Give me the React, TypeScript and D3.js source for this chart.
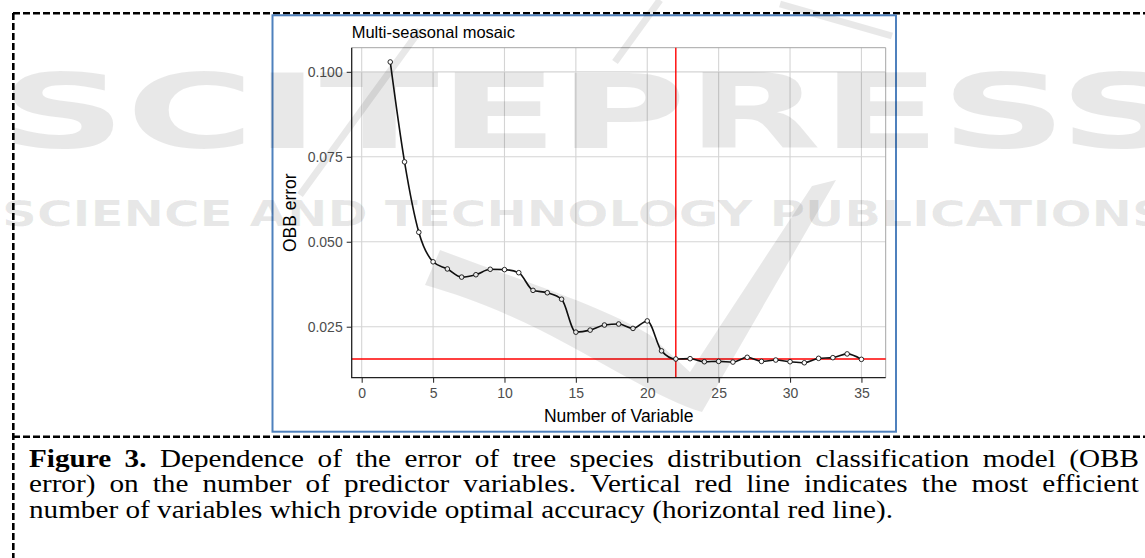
import React, { useEffect, useRef } from 'react';
import * as d3 from 'd3';

// number of predictor variables and the OBB error
const nVars = [2, 3, 4, 5, 6, 7, 8, 9, 10, 11, 12, 13, 14, 15, 16, 17, 18, 19, 20, 21, 22, 23, 24, 25, 26, 27, 28, 29, 30, 31, 32, 33, 34, 35];
const obbError = [
  0.1029, 0.0735, 0.0528, 0.0441, 0.0420, 0.0396, 0.0403, 0.0419, 0.0418, 0.0409,
  0.0357, 0.0350, 0.0331, 0.0234, 0.0240, 0.0255, 0.0258, 0.0245, 0.0267, 0.0179,
  0.0155, 0.0156, 0.0147, 0.0148, 0.0146, 0.0160, 0.0148, 0.0152, 0.0147, 0.0144,
  0.0157, 0.0159, 0.0170, 0.0154,
];
const xTicks = [0, 5, 10, 15, 20, 25, 30, 35];
const yTicks = [0.025, 0.05, 0.075, 0.1];
const optimalN = 22;
const optimalError = 0.0155;

const plotTitle = 'Multi-seasonal mosaic';
const xTitle = 'Number of Variable';
const yTitle = 'OBB error';

const captionLines = [
  { bold: 'Figure 3.', text: 'Dependence of the error of tree species distribution classification model (OBB', justify: true },
  { bold: '', text: 'error) on the number of predictor variables. Vertical red line indicates the most efficient', justify: true },
  { bold: '', text: 'number of variables which provide optimal accuracy (horizontal red line).', justify: false },
];

const W = 1145;
const H = 558;

const App: React.FC = () => {
  const svgRef = useRef<SVGSVGElement>(null);

  useEffect(() => {
    if (!svgRef.current) return;
    const svg = d3.select(svgRef.current);
    svg.selectAll('*').remove();

    const sans = 'Arial, "Liberation Sans", sans-serif';
    const serif = '"Times New Roman", "Liberation Serif", serif';

    // panel
    const panel = { left: 351.7, right: 885.7, top: 47.7, bottom: 377.7 };
    const x = d3.scaleLinear().domain([-0.7, 36.7]).range([panel.left, panel.right]);
    const y = d3.scaleLinear().domain([0.0100, 0.1071]).range([panel.bottom, panel.top]);

    // outer dashed frame
    const dash = svg.append('g')
      .style('stroke', '#000')
      .style('stroke-width', 2.6)
      .style('stroke-dasharray', '7,3')
      .style('fill', 'none');
    dash.append('line').attr('x1', 13).attr('x2', W).attr('y1', 13.3).attr('y2', 13.3);
    dash.append('line').attr('x1', 13.3).attr('x2', 13.3).attr('y1', 13).attr('y2', H);
    dash.append('line').attr('x1', 13).attr('x2', W).attr('y1', 436.7).attr('y2', 436.7);

    // blue picture box
    svg.append('rect')
      .attr('x', 272.5).attr('y', 15.3)
      .attr('width', 623.5).attr('height', 416.4)
      .style('fill', 'none')
      .style('stroke', '#4f81bd')
      .style('stroke-width', 2);

    const g = svg.append('g');

    // grid
    g.selectAll('.vgrid')
      .data(xTicks)
      .enter()
      .append('line')
      .attr('x1', d => x(d)).attr('x2', d => x(d))
      .attr('y1', panel.top).attr('y2', panel.bottom)
      .style('stroke', '#d4d4d4')
      .style('stroke-width', 1.1);
    g.selectAll('.hgrid')
      .data(yTicks)
      .enter()
      .append('line')
      .attr('x1', panel.left).attr('x2', panel.right)
      .attr('y1', d => y(d)).attr('y2', d => y(d))
      .style('stroke', '#d4d4d4')
      .style('stroke-width', 1.1);

    // panel border (top / right grey)
    g.append('path')
      .attr('d', `M${panel.left},${panel.top}H${panel.right}V${panel.bottom}`)
      .style('fill', 'none')
      .style('stroke', '#a6a6a6')
      .style('stroke-width', 1);

    // reference lines
    g.append('line')
      .attr('x1', panel.left).attr('x2', panel.right)
      .attr('y1', y(optimalError)).attr('y2', y(optimalError))
      .style('stroke', '#ff0000')
      .style('stroke-width', 1.4);
    g.append('line')
      .attr('x1', x(optimalN)).attr('x2', x(optimalN))
      .attr('y1', panel.top).attr('y2', panel.bottom)
      .style('stroke', '#ff0000')
      .style('stroke-width', 1.4);

    // error curve
    const pts = nVars.map((n, i) => [n, obbError[i]] as [number, number]);
    const line = d3.line<[number, number]>()
      .x(d => x(d[0]))
      .y(d => y(d[1]))
      .curve(d3.curveMonotoneX);
    g.append('path')
      .attr('d', line(pts))
      .style('fill', 'none')
      .style('stroke', '#111')
      .style('stroke-width', 1.6);
    g.selectAll('.pt')
      .data(pts)
      .enter()
      .append('circle')
      .attr('cx', d => x(d[0]))
      .attr('cy', d => y(d[1]))
      .attr('r', 2.3)
      .style('fill', '#fff')
      .style('stroke', '#111')
      .style('stroke-width', 0.9);

    // axes
    const xAxis = g.append('g')
      .attr('transform', `translate(0,${panel.bottom})`)
      .call(d3.axisBottom(x).tickValues(xTicks).tickSize(5).tickPadding(6).tickFormat(d3.format('d')));
    const yAxis = g.append('g')
      .attr('transform', `translate(${panel.left},0)`)
      .call(d3.axisLeft(y).tickValues(yTicks).tickSize(5).tickPadding(4).tickFormat(d3.format('.3f')));
    [xAxis, yAxis].forEach(ax => {
      ax.select('.domain').remove();
      ax.selectAll('line').style('stroke', '#333').style('stroke-width', 1.1);
      ax.selectAll('text')
        .style('font-family', sans)
        .style('font-size', '14px')
        .style('fill', '#4d4d4d');
    });
    xAxis.selectAll('text').attr('dy', null).attr('y', 20.5);
    g.append('path')
      .attr('d', `M${panel.left},${panel.top}V${panel.bottom}H${panel.right}`)
      .style('fill', 'none')
      .style('stroke', '#222')
      .style('stroke-width', 1.3);

    // titles
    g.append('text')
      .attr('x', panel.left).attr('y', 38.3)
      .style('font-family', sans).style('font-size', '16.5px').style('fill', '#000')
      .text(plotTitle);
    g.append('text')
      .attr('x', (panel.left + panel.right) / 2).attr('y', 421.5)
      .style('text-anchor', 'middle')
      .style('font-family', sans).style('font-size', '17.5px').style('fill', '#000')
      .text(xTitle);
    g.append('text')
      .attr('transform', `translate(295.5,${(panel.top + panel.bottom) / 2}) rotate(-90)`)
      .style('text-anchor', 'middle')
      .style('font-family', sans).style('font-size', '17.5px').style('fill', '#000')
      .text(yTitle);

    // caption, justified word by word, stretched a little to the page width
    const capLeft = 29;
    const capRight = 1139;
    const lastRight = 893;
    const capSize = 25;
    const capY = [467, 492.5, 518];
    const cap = svg.append('g');
    const laid = captionLines.map((ln, li) => {
      const words: { w: string; bold: boolean }[] = [];
      if (ln.bold) ln.bold.split(' ').forEach(w => words.push({ w, bold: true }));
      ln.text.split(' ').forEach(w => words.push({ w, bold: false }));
      const t = cap.append('text')
        .attr('y', capY[li])
        .style('font-family', serif)
        .style('font-size', `${capSize}px`)
        .style('fill', '#000');
      const spans = words.map(wd => t.append('tspan')
        .style('font-weight', wd.bold ? 'bold' : 'normal')
        .text(wd.w));
      const widths = spans.map(s => (s.node() as SVGTextContentElement).getComputedTextLength());
      return { ln, spans, widths };
    });
    const space = capSize * 0.25;
    const last = laid[laid.length - 1];
    const lastW = d3.sum(last.widths) + space * (last.widths.length - 1);
    const sx = (lastRight - capLeft) / lastW;
    cap.attr('transform', `translate(${capLeft},0) scale(${sx},1)`);
    laid.forEach(({ ln, spans, widths }) => {
      const total = d3.sum(widths);
      const span = (capRight - capLeft) / sx;
      const gap = ln.justify ? (span - total) / (widths.length - 1) : space;
      let cx = 0;
      spans.forEach((s, i) => {
        s.attr('x', cx);
        cx += widths[i] + gap;
      });
    });

    // publisher watermark on top
    const wm = svg.append('g').style('pointer-events', 'none');
    const wmFill = 'rgba(0,0,0,0.09)';
    wm.append('text')
      .attr('x', 0).attr('y', 148)
      .attr('textLength', 1185)
      .attr('lengthAdjust', 'spacingAndGlyphs')
      .style('font-family', '"DejaVu Sans", sans-serif')
      .style('font-weight', 'bold')
      .style('font-size', '104px')
      .style('fill', wmFill)
      .text('SCITEPRESS');
    wm.append('text')
      .attr('x', 2).attr('y', 226)
      .attr('textLength', 1165)
      .attr('lengthAdjust', 'spacingAndGlyphs')
      .style('font-family', '"DejaVu Sans", sans-serif')
      .style('font-weight', 'bold')
      .style('font-size', '35px')
      .style('fill', wmFill)
      .text('SCIENCE AND TECHNOLOGY PUBLICATIONS');
    wm.append('path')
      .attr('d', 'M440,250 C520,280 600,305 650,335 L690,372 L812,186 L836,180 L702,412 C660,400 600,360 540,330 C500,310 460,295 425,285 Z')
      .style('fill', wmFill);
    wm.append('path')
      .attr('d', 'M300,195 L420,30 M615,62 L660,0 M780,4 L892,36')
      .style('fill', 'none')
      .style('stroke', wmFill)
      .style('stroke-width', 7);
  }, []);

  return (
    <div style={{ position: 'absolute', left: 0, top: 0, width: W, height: H, background: '#fff' }}>
      <svg ref={svgRef} width={W} height={H} style={{ display: 'block' }} />
    </div>
  );
};

export default App;
